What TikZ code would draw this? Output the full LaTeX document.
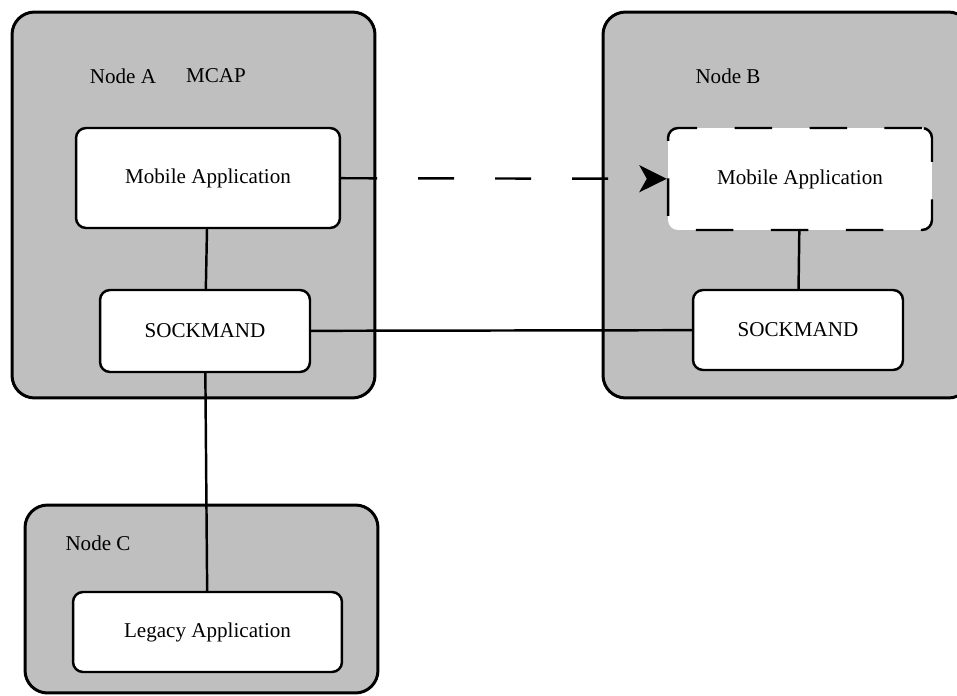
\documentclass[tikz,border=0pt]{standalone}
\usepackage{fontspec}
\setmainfont{Liberation Serif}
\usetikzlibrary{arrows.meta}
\newcommand\HostBox[5]{%
    \node[host, minimum width=#4cm, minimum height=#5cm] (#1) at (#2,#3) {};
}
\newcommand\AppBox[6]{%
    \node[app, minimum width=#4cm, minimum height=#5cm] (#1) at (#2,#3) {#6};
}

\begin{document}
\begin{tikzpicture}[x=0.02cm, y=-0.02cm,
    font=\fontsize{12}{14}\selectfont,
    host/.style={draw, line width=1.7pt, rounded corners=0.45cm, fill={rgb,255:red,191;green,191;blue,191}},
    app/.style={draw, line width=1.4pt, rounded corners=0.2cm, fill=white},
    link/.style={line width=1.4pt}]
    \useasboundingbox (0,0) rectangle (957,696);
    % hosts
    \HostBox{hostA}{193.5}{205}{7.26}{7.72}
    \HostBox{hostB}{787}{205}{7.36}{7.72}
    \HostBox{hostC}{201.5}{599}{7.06}{3.76}
    \node (labelA) at (123,76) {Node A};
    \node (labelM) at (216,76) {MCAP};
    \node (labelB) at (728,76) {Node B};
    \node (labelC) at (98,543) {Node C};
    % applications
    \AppBox{mobA}{208}{178}{5.28}{2}{Mobile Application}
    \AppBox{sockA}{205}{331}{4.2}{1.64}{SOCKMAND}
    \AppBox{sockB}{798}{330}{4.2}{1.6}{SOCKMAND}
    \AppBox{legacy}{207.5}{632}{5.38}{1.6}{Legacy Application}
    \begin{scope}[app/.append style={dash pattern=on 0.75cm off 0.75cm}] % migrated copy
        \AppBox{mobB}{800}{179}{5.28}{2.04}{Mobile Application}
    \end{scope}
    % links
    \draw[link] (mobA) -- (sockA);
    \draw[link] (mobB) -- (sockB);
    \draw[link] (sockA) -- (sockB);
    \draw[link] (sockA) -- (legacy);
    \draw[link, dash pattern=on 0.72cm off 0.82cm, -{Stealth[length=0.55cm, width=0.54cm, inset=0.15cm]}] (mobA) -- (mobB);
\end{tikzpicture}
\end{document}
